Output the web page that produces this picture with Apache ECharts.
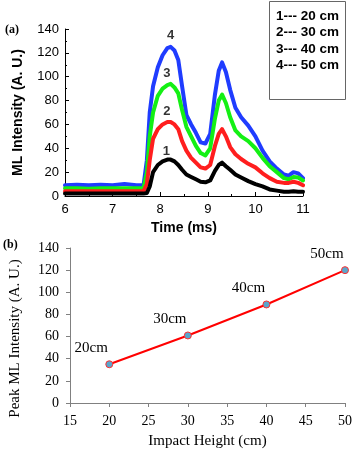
<!DOCTYPE html>
<html>
<head>
<meta charset="utf-8">
<script src="https://cdn.jsdelivr.net/npm/echarts@6/dist/echarts.min.js"></script>
<style>
html,body{margin:0;padding:0;background:#fff;}
#chart{width:355px;height:451px;}
</style>
</head>
<body>
<div id="chart"></div>
<script>
// ---- Panel (a): ML intensity vs time ----
var times = [6.0,6.25,6.5,6.75,7.0,7.25,7.5,7.65,7.72,7.78,7.85,7.95,8.05,8.15,8.22,8.3,8.38,8.46,8.55,8.65,8.75,8.85,8.95,9.05,9.15,9.23,9.3,9.38,9.47,9.58,9.7,9.85,10.0,10.15,10.3,10.45,10.6,10.7,10.8,10.9,11.0];
var h50 = [9,9.5,9,9.5,9,10,9,9,30,70,92,108,118,124,125,122,114,92,68,60,53,45,44,52,85,105,112,104,89,74,66,59,50,38,29,23,18,17,20,19,15];
var h40 = [6.5,6.5,6,6.5,6.5,6.5,6.5,6.5,20,50,70,84,90,93,94,91,86,72,58,50,42,36,34,40,65,80,85,78,66,55,50,46,40,32,25,20,15,14,16,15.5,13];
var h30 = [4,4,4,4,4,4,4,4,10,30,48,56,60,62,62,60,56,46,38,32,28,24,23,26,42,52,56,50,41,35,31,27,24,19,15,12,11,11,12,11,9];
var h20 = [2,2,2,2,2,2,2,2,2.5,8,20,26,29,30.5,30.5,29,26,22,18,16,14,12,11.5,13,21,26,28,25,22,18,15.5,12.5,10,8,5.5,4.5,3.5,3.5,4,3.5,3.5];
var curveTags = ['1','2','3','4'];
var curveTagX = [8.13,8.14,8.14,8.22];
var curveTagY = [37,70.7,103,135];
var legendLines = ['1--- 20 cm','2--- 30 cm','3--- 40 cm','4--- 50 cm'];

// ---- Panel (b): peak intensity vs impact height ----
var heights = [20,30,40,50];
var peaks = [35,61,89,120];
var heightTags = ['20cm','30cm','40cm','50cm'];

function pairs(xs, ys){ return xs.map(function(x,i){ return [x, ys[i]]; }); }

var sans = 'Liberation Sans';
var serif = 'Liberation Serif';

function curve(name, vals, color){
  return {
    name: name, type: 'line', xAxisIndex: 0, yAxisIndex: 0,
    data: pairs(times, vals), showSymbol: false, symbol: 'none',
    lineStyle: {color: color, width: 4, join: 'round', cap: 'round'}, smooth: false, animation: false, z: 3
  };
}

var chart = echarts.init(document.getElementById('chart'), null, {renderer: 'canvas'});
chart.setOption({
  animation: false,
  backgroundColor: '#fff',
  grid: [
    {left: 65, top: 29, width: 238, height: 167},
    {left: 67, top: 248, width: 279, height: 155}
  ],
  xAxis: [
    {
      gridIndex: 0, type: 'value', min: 6, max: 11, interval: 1,
      name: 'Time (ms)', nameLocation: 'middle', nameGap: 25,
      nameTextStyle: {fontFamily: sans, fontSize: 14, fontWeight: 'bold', color: '#000'},
      axisLine: {lineStyle: {color: '#000', width: 1}},
      axisTick: {inside: true, length: 4, lineStyle: {color: '#000'}},
      minorTick: {show: true, splitNumber: 2, length: 2, lineStyle: {color: '#000'}},
      axisLabel: {fontFamily: sans, fontSize: 13, color: '#000', margin: 7},
      splitLine: {show: false}
    },
    {
      gridIndex: 1, type: 'value', min: 15, max: 50, interval: 5,
      name: 'Impact Height (cm)', nameLocation: 'middle', nameGap: 31,
      nameTextStyle: {fontFamily: serif, fontSize: 15, color: '#000'},
      axisLine: {lineStyle: {color: '#808080', width: 1}},
      axisTick: {inside: false, length: 4, lineStyle: {color: '#808080'}},
      axisLabel: {fontFamily: serif, fontSize: 14, color: '#000', margin: 11},
      splitLine: {show: false}
    }
  ],
  yAxis: [
    {
      gridIndex: 0, type: 'value', min: 0, max: 140, interval: 20,
      name: 'ML Intensity (A. U.)', nameLocation: 'middle', nameGap: 40,
      nameTextStyle: {fontFamily: sans, fontSize: 14, fontWeight: 'bold', color: '#000'},
      axisLine: {show: true, lineStyle: {color: '#000', width: 1}},
      axisTick: {show: true, inside: true, length: 4, lineStyle: {color: '#000'}},
      minorTick: {show: true, splitNumber: 2, length: 2, lineStyle: {color: '#000'}},
      axisLabel: {fontFamily: sans, fontSize: 13, color: '#000', margin: 6},
      splitLine: {show: false}
    },
    {
      gridIndex: 1, type: 'value', min: 0, max: 140, interval: 20,
      name: 'Peak ML Intensity (A. U.)', nameLocation: 'middle', nameGap: 47,
      nameTextStyle: {fontFamily: serif, fontSize: 15, color: '#000', padding: [0, 26, 0, 0]},
      axisLine: {show: true, lineStyle: {color: '#808080', width: 1}},
      axisTick: {show: true, inside: false, length: 4, lineStyle: {color: '#808080'}},
      axisLabel: {fontFamily: serif, fontSize: 14, color: '#000', margin: 11},
      splitLine: {show: false}
    }
  ],
  series: [
    curve('50 cm', h50, '#1f3cff'),
    curve('40 cm', h40, '#14f014'),
    curve('30 cm', h30, '#ff1e1e'),
    curve('20 cm', h20, '#000000'),
    {
      type: 'scatter', xAxisIndex: 0, yAxisIndex: 0, symbolSize: 1,
      itemStyle: {color: 'rgba(0,0,0,0)'},
      data: curveTagX.map(function(x,i){ return {value: [x, curveTagY[i]], tag: curveTags[i]}; }),
      label: {show: true, position: 'inside', fontFamily: sans, fontSize: 13, fontWeight: 'bold', color: '#000',
        formatter: function(p){ return p.data.tag; }},
      z: 5
    },
    {
      type: 'line', xAxisIndex: 1, yAxisIndex: 1,
      data: pairs(heights, peaks),
      lineStyle: {color: '#ff0000', width: 2},
      symbol: 'circle', symbolSize: 7, showSymbol: true,
      itemStyle: {color: '#5aa6cc', borderColor: '#ff3030', borderWidth: 1},
      label: {show: true, position: 'top', offset: [-18, 0], fontFamily: serif, fontSize: 15, color: '#000',
        formatter: function(p){ return heightTags[p.dataIndex]; }}
    }
  ],
  graphic: [
    {type: 'rect', left: 269, top: 1, shape: {width: 76, height: 98},
     style: {fill: '#fff', stroke: '#666', lineWidth: 1}, z: 10},
    {type: 'text', left: 276, top: 8, z: 11,
     style: {text: legendLines.join('\n'), font: 'bold 13.5px "Liberation Sans"', fill: '#000', lineHeight: 16.5}},
    {type: 'text', left: 5, top: 24, z: 11,
     style: {text: '(a)', font: 'bold 12px "Liberation Serif"', fill: '#000'}},
    {type: 'text', left: 3, top: 239, z: 11,
     style: {text: '(b)', font: 'bold 12px "Liberation Serif"', fill: '#000'}}
  ]
});
</script>
</body>
</html>
